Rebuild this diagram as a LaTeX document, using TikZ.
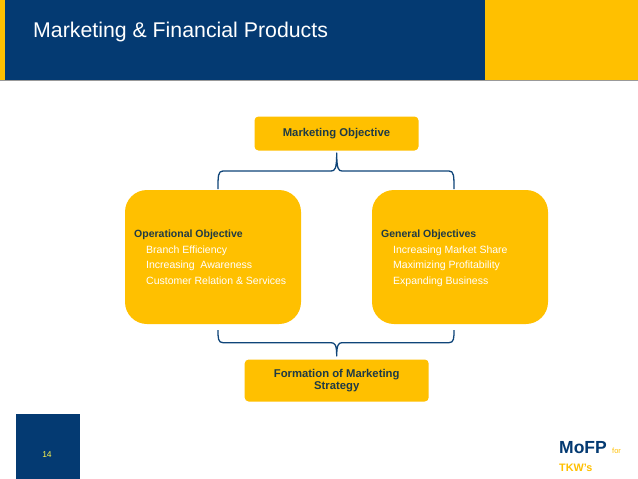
\documentclass[tikz,border=0pt]{standalone}
\usepackage{fontspec}
\setmainfont{Liberation Sans}
\definecolor{navy}{HTML}{043A72}
\definecolor{gold}{HTML}{FFC000}
\definecolor{ink}{HTML}{1F3A45}
\definecolor{brace}{HTML}{0F4579}
\tikzset{
  sbox/.style={fill=gold,rounded corners=4pt,inner sep=0pt,minimum height=#1},
  bigbox/.style={fill=gold,rounded corners=22pt,inner sep=0pt,minimum width=176pt,minimum height=134pt},
  boxtext/.style={font=\fontsize{10.5}{15.8}\selectfont,anchor=north west,inner sep=0pt,align=left},
  lead/.style={font=\bfseries\fontsize{11.3}{12.6}\selectfont,text=ink,align=center},
  bracket/.style={draw=brace,line width=1.3pt,line join=round}
}
\newcommand{\hd}[1]{\textcolor{ink}{\textbf{#1}}}
\begin{document}
\begin{tikzpicture}[x=1pt,y=-1pt]
\useasboundingbox (0,0) rectangle (638,479);
\fill[white] (0,0) rectangle (638,479);
% header
\fill[gold] (0,0) rectangle (638,80);
\fill[navy] (5,0) rectangle (485,80);
\fill[black!40] (0,80) rectangle (638,81);
\node[anchor=base west,inner sep=0pt,text=white,font=\fontsize{21.3}{24}\selectfont] (title) at (33,37.5) {Marketing \& Financial Products};
% boxes
\node[sbox=34pt,minimum width=164pt,lead] (mo) at (336.5,133.5) {Marketing Objective};
\node[bigbox] (op) at (213,257) {};
\node[bigbox] (ge) at (460,257) {};
\node[sbox=42pt,minimum width=184pt,lead] (fm) at (336.7,380.5) {Formation of Marketing\\Strategy};
\node[boxtext,text=white] (optext) at (134,229.5) {\hd{Operational Objective}\\
\hspace*{12pt}Branch Efficiency\\
\hspace*{12pt}Increasing\ \ Awareness\\
\hspace*{12pt}Customer Relation \& Services};
\node[boxtext,text=white] (getext) at (381,229.5) {\hd{General Objectives}\\
\hspace*{12pt}Increasing Market Share\\
\hspace*{12pt}Maximizing Profitability\\
\hspace*{12pt}Expanding Business};
% brackets
\coordinate (tl) at (218,189); \coordinate (tr) at (454,189);
\coordinate (tc) at (336.7,153);
\coordinate (bl) at (218,330); \coordinate (br) at (454,330);
\coordinate (bc) at (336.7,356);
\draw[bracket] (tl) .. controls (218,176) and (218,171) .. (223,171) -- (331,171)
  .. controls (335,171) and (336.7,169) .. (tc)
  .. controls (336.7,169) and (338.5,171) .. (342,171) -- (449,171)
  .. controls (454,171) and (454,176) .. (tr);
\draw[bracket] (bl) .. controls (218,338) and (218,342.7) .. (223,342.7) -- (331,342.7)
  .. controls (335,342.7) and (336.7,345) .. (bc)
  .. controls (336.7,345) and (338.5,342.7) .. (342,342.7) -- (449,342.7)
  .. controls (454,342.7) and (454,338) .. (br);
% footer
\fill[navy] (16,414) rectangle (80,479);
\node[font=\fontsize{8.5}{10}\selectfont,text=yellow!70!white] (pg) at (47,455) {14};
\node[anchor=base west,inner sep=0pt,font=\bfseries\fontsize{17.5}{18}\selectfont,text=navy] (mofp) at (559,453) {MoFP};
\node[anchor=base west,inner sep=0pt,font=\fontsize{7.5}{8}\selectfont,text=gold] (for) at (612,453) {for};
\node[anchor=base west,inner sep=0pt,font=\bfseries\fontsize{10.8}{11}\selectfont,text=gold] (tkw) at (559,471) {TKW's};
\end{tikzpicture}
\end{document}
